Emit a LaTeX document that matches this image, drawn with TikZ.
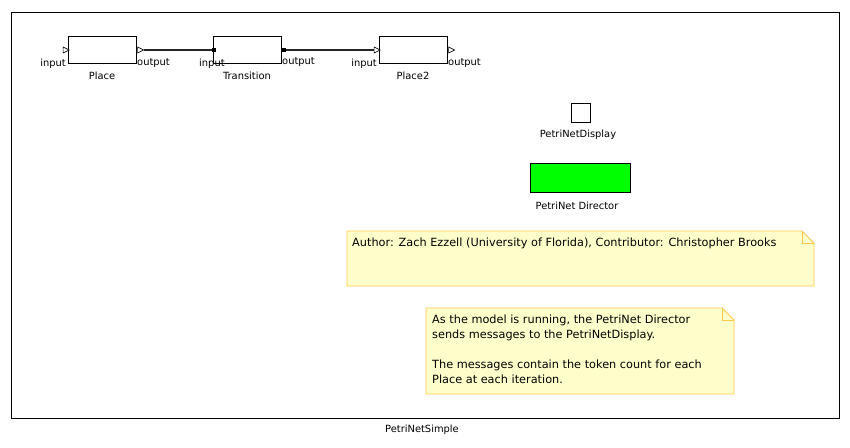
\documentclass[tikz,border=0pt]{standalone}
\usepackage{fontspec}
\setmainfont{DejaVu Sans}
\usetikzlibrary{arrows,positioning,shapes}
\definecolor{notefill}{HTML}{FFFFCC}
\definecolor{noteline}{HTML}{FFC64A}

\begin{document}
\begin{tikzpicture}[x=1pt,y=-1pt,font=\fontsize{9.9}{11}\selectfont,
                    node distance=3pt]
  \tikzstyle{actor}=[rectangle,draw,line width=0.8pt,fill=white,minimum width=68pt,minimum height=27pt,inner sep=0pt]
  \tikzstyle{tport}=[isosceles triangle,isosceles triangle stretches,draw,line width=0.6pt,fill=white,minimum width=6pt,minimum height=6pt,inner sep=0pt]
  \tikzstyle{sport}=[rectangle,fill=black,minimum size=4.5pt,inner sep=0pt]
  \tikzstyle{portlabel}=[inner sep=0pt]
  \tikzstyle{wire}=[line width=1.8pt,black!85]
  \tikzstyle{note}=[draw=noteline,fill=notefill,line width=0.8pt]
  \tikzstyle{notetext}=[anchor=north west,inner sep=0pt,align=left,font=\fontsize{11.3}{15}\selectfont]

  \useasboundingbox (0,0) rectangle (850,447);
  \draw[line width=0.9pt] (11,12) rectangle (839,418);
  \node (title) at (422,430) {PetriNetSimple};

  % actors
  \node[actor] (place)      at (102,50) {};
  \node[actor] (transition) at (247,50) {};
  \node[actor] (place2)     at (413,50) {};
  \node (placelbl)      [below=5pt of place]      {Place};
  \node (transitionlbl) [below=5pt of transition] {Transition};
  \node (place2lbl)     [below=5pt of place2]     {Place2};

  % ports
  \node[tport] (placein)   at (65,50)  {};
  \node[tport] (placeout)  at (139.5,50) {};
  \node[sport] (transin)   at (214,50) {};
  \node[sport] (transout)  at (283.5,50) {};
  \node[tport] (place2in)  at (376,50) {};
  \node[tport] (place2out) at (450.5,50) {};

  \node[portlabel,anchor=east] (placeinlbl)   at (66,63.5)  {input};
  \node[portlabel,anchor=west] (placeoutlbl)  at (137,63.5) {output};
  \node[portlabel,anchor=west] (transinlbl)   at (199,63.5) {input};
  \node[portlabel,anchor=west] (transoutlbl)  at (282,62) {output};
  \node[portlabel,anchor=east] (place2inlbl)  at (377,63.5) {input};
  \node[portlabel,anchor=west] (place2outlbl) at (448,63.5) {output};

  \draw[wire] (placeout.east) -- (transin.west);
  \draw[wire] (transout.east) -- (place2in.west);

  % display and director
  \node[rectangle,draw,line width=0.8pt,minimum size=19pt,inner sep=0pt] (display) at (580.5,113) {};
  \node (displaylbl) at (578,135) {PetriNetDisplay};
  \node[rectangle,draw,line width=0.8pt,fill=green,minimum width=100pt,minimum height=29pt,inner sep=0pt] (director) at (580,177.5) {};
  \node (directorlbl) at (577,206) {PetriNet Director};

  % notes
  \draw[note] (347,231) -- (802,231) -- (814,243) -- (814,286) -- (347,286) -- cycle;
  \draw[noteline,line width=0.6pt] (802,231) -- (802,243) -- (814,243);
  \node[notetext] (author) at (352,237.5) {Author: Zach Ezzell (University of Florida), Contributor: Christopher Brooks};

  \draw[note] (426,308) -- (722,308) -- (734,320) -- (734,394) -- (426,394) -- cycle;
  \draw[noteline,line width=0.6pt] (722,308) -- (722,320) -- (734,320);
  \node[notetext] (explain) at (432,314.5) {As the model is running, the PetriNet Director\\
    sends messages to the PetriNetDisplay.\\[15pt]
    The messages contain the token count for each\\
    Place at each iteration.};
\end{tikzpicture}
\end{document}
